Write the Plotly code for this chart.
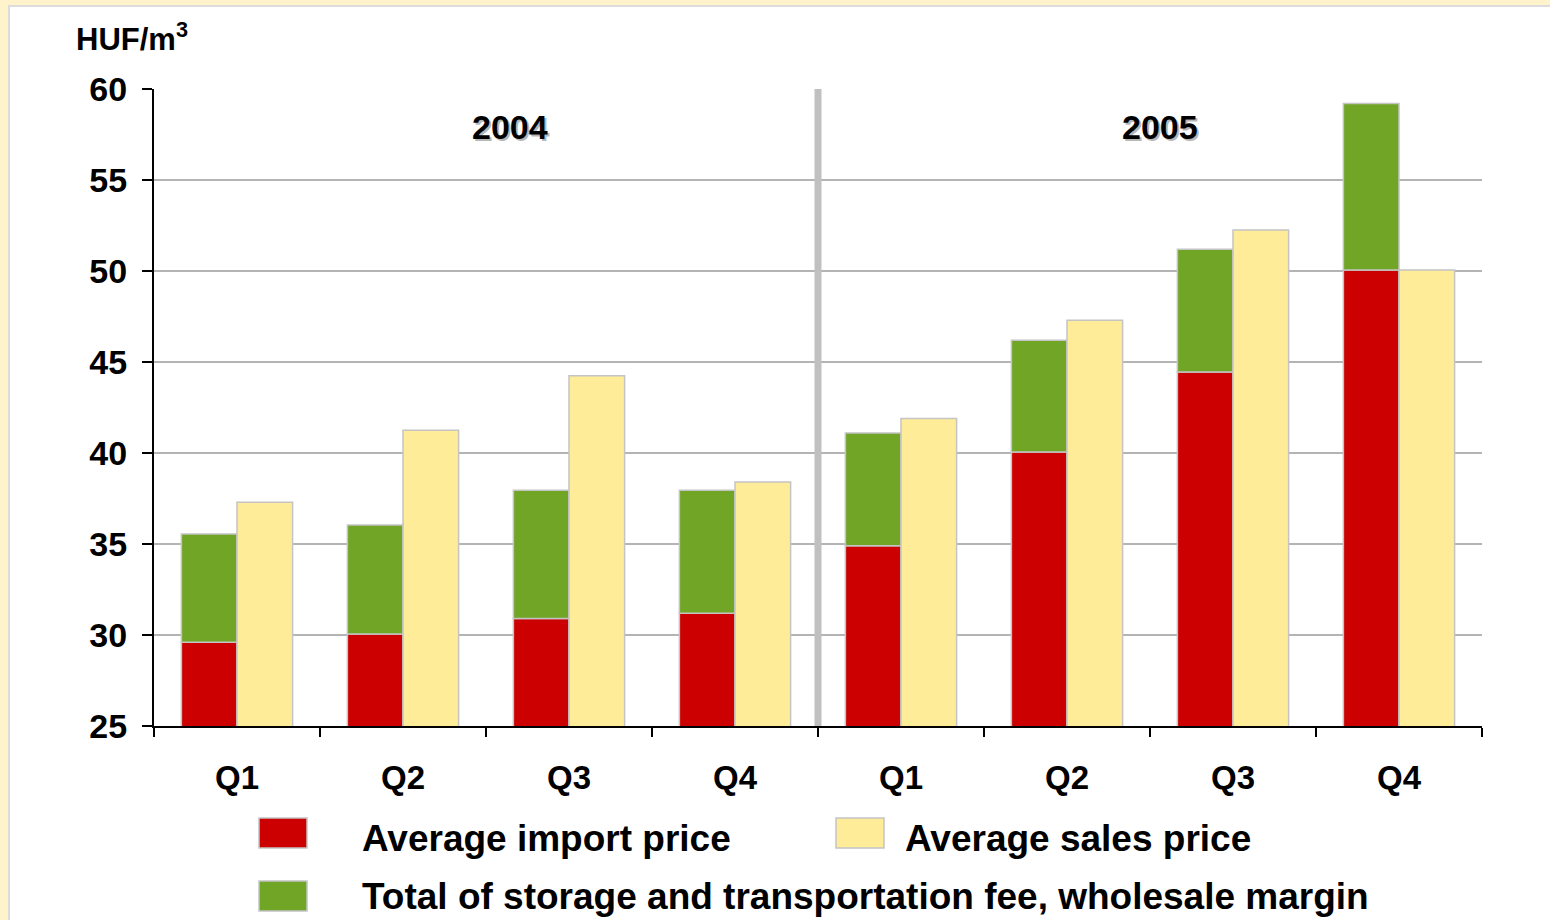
import plotly.graph_objects as go

# ---- data ----
quarters = ["Q1", "Q2", "Q3", "Q4", "Q1", "Q2", "Q3", "Q4"]
years = ["2004", "2005"]
import_price = [29.6, 30.05, 30.9, 31.2, 34.9, 40.05, 44.45, 50.05]
total_with_fees = [35.55, 36.05, 37.95, 37.95, 41.1, 46.2, 51.2, 59.2]
sales_price = [37.3, 41.25, 44.25, 38.4, 41.9, 47.3, 52.25, 50.05]
fees_margin = [round(t - i, 2) for t, i in zip(total_with_fees, import_price)]
series_names = ["Average import price", "Average sales price",
                "Total of storage and transportation fee, wholesale margin"]
y_ticks = [25, 30, 35, 40, 45, 50, 55, 60]

RED = "#CC0000"
GREEN = "#70A526"
YELLOW = "#FFEC99"
EDGE = "#C4C4C4"
FONT = "Liberation Sans, Arial, sans-serif"

xs = list(range(len(quarters)))

fig = go.Figure()
fig.add_trace(go.Bar(x=xs, y=import_price, name=series_names[0], offsetgroup="a",
                     marker=dict(color=RED, line=dict(color=EDGE, width=1.5))))
fig.add_trace(go.Bar(x=xs, y=fees_margin, base=import_price, name=series_names[2],
                     offsetgroup="a",
                     marker=dict(color=GREEN, line=dict(color=EDGE, width=1.5))))
fig.add_trace(go.Bar(x=xs, y=sales_price, name=series_names[1], offsetgroup="b",
                     marker=dict(color=YELLOW, line=dict(color=EDGE, width=1.5))))

L, R, T, B = 154, 1482, 89, 726
W, H = 1550, 920
PW, PH = R - L, B - T


def px(x):
    return (x - L) / PW


def py(y):
    return (B - y) / PH


shapes = [
    # white card over the yellow page background
    dict(type="rect", xref="paper", yref="paper", layer="below",
         x0=px(9), x1=px(1600), y0=py(990), y1=py(6),
         fillcolor="white", line=dict(color="#DCDCDC", width=2)),
    # separator between years
    dict(type="line", xref="x", yref="paper", x0=3.5, x1=3.5, y0=0, y1=1,
         line=dict(color="#C0C0C0", width=7), layer="above"),
]

annotations = [
    dict(xref="paper", yref="paper", x=px(74), y=py(37), xanchor="left",
         yanchor="middle", showarrow=False, text="<b>HUF/m<sup>3</sup></b>",
         font=dict(family=FONT, size=31, color="black")),
]
year_pos = [px(510), px(1160)]
for yr, xp in zip(years, year_pos):
    annotations.append(dict(xref="paper", yref="paper", x=xp + 2 / PW, y=py(127) - 2 / PH,
                            xanchor="center", yanchor="middle",
                            showarrow=False, text=f"<b>{yr}</b>",
                            font=dict(family=FONT, size=34, color="rgba(0,0,0,0.3)")))
    annotations.append(dict(xref="paper", yref="paper", x=xp, y=py(127),
                            xanchor="center", yanchor="middle",
                            showarrow=False, text=f"<b>{yr}</b>",
                            font=dict(family=FONT, size=34, color="black")))

# manual legend with large swatches
legend_items = [
    (series_names[0], RED, 259, 833, 360, 838),
    (series_names[1], YELLOW, 836, 833, 903, 838),
    (series_names[2], GREEN, 259, 896, 360, 896),
]
for name, col, lx, ly, tx, ty in legend_items:
    shapes.append(dict(type="rect", xref="paper", yref="paper",
                       x0=px(lx), x1=px(lx + 48), y0=py(ly + 15), y1=py(ly - 15),
                       fillcolor=col, line=dict(color=EDGE, width=1.5)))
    annotations.append(dict(xref="paper", yref="paper", x=px(tx),
                            y=py(ty), xanchor="left", yanchor="middle", showarrow=False,
                            text=f"<b>{name}</b>",
                            font=dict(family=FONT, size=37, color="black")))

fig.update_layout(
    width=W, height=H,
    margin=dict(l=L, r=W - R, t=T, b=H - B),
    paper_bgcolor="#FFF3CC",
    plot_bgcolor="rgba(0,0,0,0)",
    barmode="group",
    bargap=0.33,
    bargroupgap=0,
    showlegend=False,
    shapes=shapes,
    annotations=annotations,
    font=dict(family=FONT, color="black"),
)
fig.update_xaxes(
    range=[-0.5, 7.5],
    tickmode="array", tickvals=xs, ticktext=[f"<b>{q}</b>" for q in quarters],
    ticks="", showgrid=False, zeroline=False,
    showline=True, linecolor="black", linewidth=2,
    tickfont=dict(family=FONT, size=33, color="black"),
    ticklabelstandoff=21,
    minor=dict(tickmode="array", tickvals=[i - 0.5 for i in range(len(quarters) + 1)],
               ticks="outside", ticklen=9, tickwidth=2, tickcolor="black", showgrid=False),
)
fig.update_yaxes(
    range=[y_ticks[0], y_ticks[-1]],
    tickmode="array", tickvals=y_ticks, ticktext=[f"<b>{v}</b>" for v in y_ticks],
    ticks="outside", ticklen=10, tickwidth=2, tickcolor="black",
    showgrid=True, gridcolor="#B4B4B4", gridwidth=1.5,
    zeroline=False, showline=True, linecolor="black", linewidth=2,
    tickfont=dict(family=FONT, size=34, color="black"),
    ticklabelstandoff=8,
)

fig.write_html("out.html", config={"displayModeBar": False},
               post_script="document.body.style.margin='0';document.body.style.overflow='hidden';")
